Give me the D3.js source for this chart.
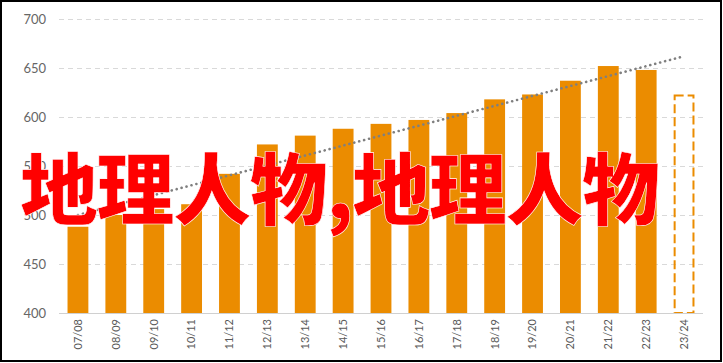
<!DOCTYPE html>
<html lang="zh">
<head>
<meta charset="UTF-8">
<title>地理人物</title>
<script src="https://cdnjs.cloudflare.com/ajax/libs/d3/7.8.5/d3.min.js"></script>
<style>
  body { margin: 0; background: #fff; }
  svg { display: block; }
</style>
</head>
<body>
<svg id="chart"></svg>
<script>
// seasons shown on the x axis
var categories = ["07/08", "08/09", "09/10", "10/11", "11/12", "12/13", "13/14", "14/15",
  "15/16", "16/17", "17/18", "18/19", "19/20", "20/21", "21/22", "22/23", "23/24"]
// actual values (last season is only a forecast, drawn dashed)
var values = [488, 500, 506, 511, 542, 572, 581, 588, 593, 597, 604, 618, 623, 637, 652, 648]
var forecast = [{ cat: "23/24", value: 622 }]
// trend line, value at first and last season
var trend = [{ cat: "07/08", value: 500 }, { cat: "23/24", value: 662 }]
var yTicks = [400, 450, 500, 550, 600, 650, 700]
var overlay = "地理人物,地理人物"

var W = 723, H = 363
var svg = d3.select("#chart").attr("width", W).attr("height", H)

var x = d3.scaleBand().domain(categories).range([59, 703])
  .paddingInner(0.45).paddingOuter(0.225)
var y = d3.scaleLinear().domain([400, 700]).range([313, 19])

// grid
svg.append("g").selectAll("line")
  .data(yTicks.slice(1)).enter()
  .append("line")
  .attr("x1", 59).attr("x2", 703)
  .attr("y1", function(d) { return y(d) + 0.5 })
  .attr("y2", function(d) { return y(d) + 0.5 })
  .attr("stroke", "#d9d9d9")
  .attr("stroke-dasharray", "5,4")

// y labels
svg.append("g").selectAll("text")
  .data(yTicks).enter()
  .append("text")
  .attr("x", 46)
  .attr("y", function(d) { return y(d) })
  .attr("dy", "0.35em")
  .attr("text-anchor", "end")
  .attr("font-family", "Lato, 'Open Sans', sans-serif")
  .attr("font-size", 13)
  .attr("fill", "#666")
  .text(function(d) { return d })

// bars
svg.append("g").selectAll("rect")
  .data(values).enter()
  .append("rect")
  .attr("x", function(d, i) { return x(categories[i]) })
  .attr("y", function(d) { return y(d) })
  .attr("width", x.bandwidth())
  .attr("height", function(d) { return y(400) - y(d) })
  .attr("fill", "#eb8c00")

// forecast bar
svg.append("g").selectAll("rect")
  .data(forecast).enter()
  .append("rect")
  .attr("x", function(d) { return x(d.cat) + 1 })
  .attr("y", function(d) { return y(d.value) })
  .attr("width", x.bandwidth() - 2)
  .attr("height", function(d) { return y(400) - y(d.value) })
  .attr("fill", "none")
  .attr("stroke", "#eb8c00")
  .attr("stroke-width", 2)
  .attr("stroke-dasharray", "9,4")

// x axis line
svg.append("line")
  .attr("x1", 59).attr("x2", 703)
  .attr("y1", y(400) + 0.5).attr("y2", y(400) + 0.5)
  .attr("stroke", "#d0d0d0")

// x labels
svg.append("g").selectAll("text")
  .data(categories).enter()
  .append("text")
  .attr("transform", function(d) {
    return "translate(" + (x(d) + x.bandwidth() / 2) + ",319) rotate(-90)"
  })
  .attr("dy", "0.35em")
  .attr("text-anchor", "end")
  .attr("font-family", "Lato, 'Open Sans', sans-serif")
  .attr("font-size", 11)
  .attr("fill", "#595959")
  .text(function(d) { return d })

// trend line
var line = d3.line()
  .x(function(d) { return x(d.cat) + x.bandwidth() / 2 })
  .y(function(d) { return y(d.value) })
svg.append("path")
  .datum(trend)
  .attr("d", line)
  .attr("fill", "none")
  .attr("stroke", "#7f7f7f")
  .attr("stroke-width", 2.6)
  .attr("stroke-linecap", "round")
  .attr("stroke-dasharray", "0.1,5")

// big red overlay text
svg.append("text")
  .attr("x", 20)
  .attr("y", 219)
  .attr("font-family", "'Noto Sans CJK SC', sans-serif")
  .attr("font-weight", 900)
  .attr("font-size", 78)
  .attr("fill", "#ff0000")
  .attr("stroke", "#fff")
  .attr("stroke-width", 0.6)
  .attr("textLength", 640)
  .text(overlay)

// frame
svg.append("rect")
  .attr("x", 1).attr("y", 1)
  .attr("width", W - 3).attr("height", H - 3)
  .attr("fill", "none")
  .attr("stroke", "#000")
  .attr("stroke-width", 2)
</script>
</body>
</html>
